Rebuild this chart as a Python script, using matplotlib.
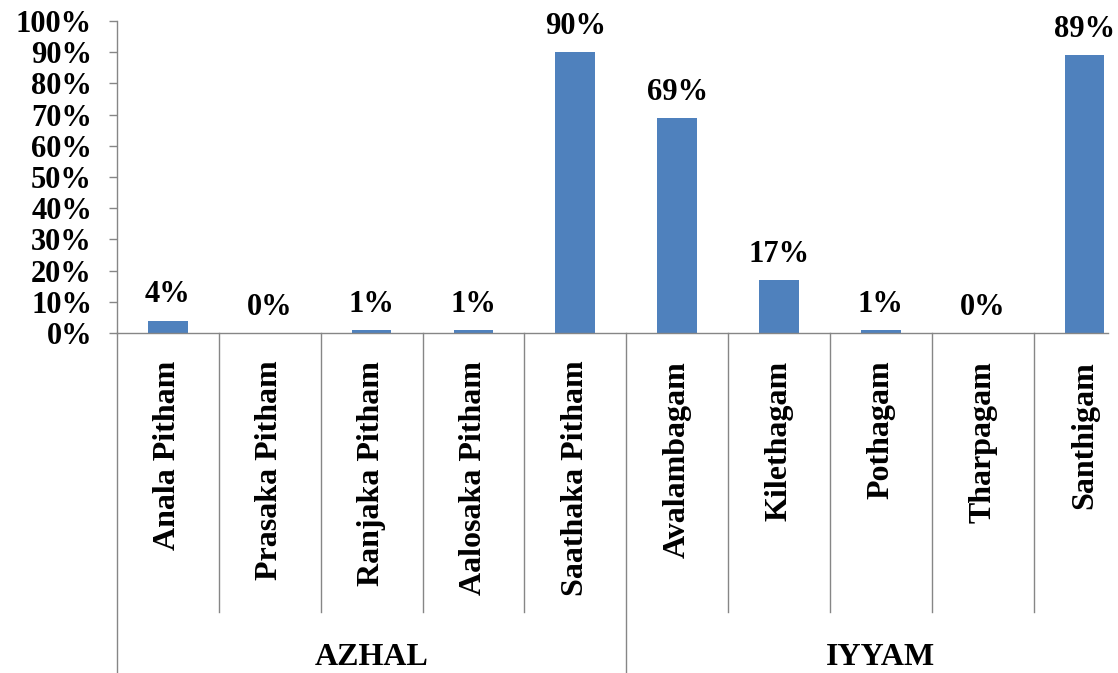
import numpy as np
from matplotlib import pyplot as plt
import matplotlib.transforms as mtransforms

plt.rcParams['font.family'] = ['Liberation Serif', 'DejaVu Serif']
plt.rcParams['font.weight'] = 'bold'

# data
categories = ['Anala Pitham', 'Prasaka Pitham', 'Ranjaka Pitham', 'Aalosaka Pitham',
              'Saathaka Pitham', 'Avalambagam', 'Kilethagam', 'Pothagam',
              'Tharpagam', 'Santhigam']
values = [4, 0, 1, 1, 90, 69, 17, 1, 0, 89]
groups = ['AZHAL', 'IYYAM']
group_sizes = [5, 5]
yticks = list(range(0, 101, 10))

W, H = 1118, 673
fig = plt.figure(figsize=(W / 100, H / 100), dpi=100, facecolor='white')
# axes placed in pixel terms
left, right, top, base = 117, 1108, 21, 333
ax = fig.add_axes([left / W, (H - base) / H, (right - left) / W, (base - top) / H])

x = np.arange(len(categories))
ax.bar(x, values, width=0.39, color='#4F81BD', zorder=2)

# data labels
for xi, v in zip(x, values):
    ax.annotate(f'{v}%', (xi, v), xytext=(0, 8), textcoords='offset points',
                ha='center', va='bottom', fontsize=22, fontweight='bold')

ax.set_ylim(0, 100)
ax.set_xlim(-0.5, 9.23)
ax.set_yticks(yticks)
ax.set_yticklabels([f'{t}%' for t in yticks], fontsize=22, fontweight='bold')

ax.set_xticks(x)
ax.set_xticklabels(categories, rotation=90, fontsize=23, fontweight='bold')
ax.tick_params(axis='x', length=0, pad=20)
ax.tick_params(axis='y', length=6, width=1, color='#868686', pad=12)

for s in ['top', 'right']:
    ax.spines[s].set_visible(False)
for s in ['left', 'bottom']:
    ax.spines[s].set_color('#868686')
    ax.spines[s].set_linewidth(1)

# separators below the axis
trans = mtransforms.blended_transform_factory(ax.transData, ax.transAxes)
inner_bottom = (base - 612) / (base - top)
outer_bottom = (base - H - 5) / (base - top)
edges = np.cumsum([0] + group_sizes) - 0.5
for i in range(len(categories) + 1):
    xe = i - 0.5
    yb = outer_bottom if xe in edges else inner_bottom
    ax.plot([xe, xe], [0, yb], color='#868686', lw=1, transform=trans, clip_on=False)

# group labels
start = 0
for g, n in zip(groups, group_sizes):
    cx = start + (n - 1) / 2
    ax.text(cx, (base - 643) / (base - top), g, transform=trans, ha='center', va='top',
            fontsize=23, fontweight='bold')
    start += n

fig.savefig('out.png', dpi=100, facecolor='white')
